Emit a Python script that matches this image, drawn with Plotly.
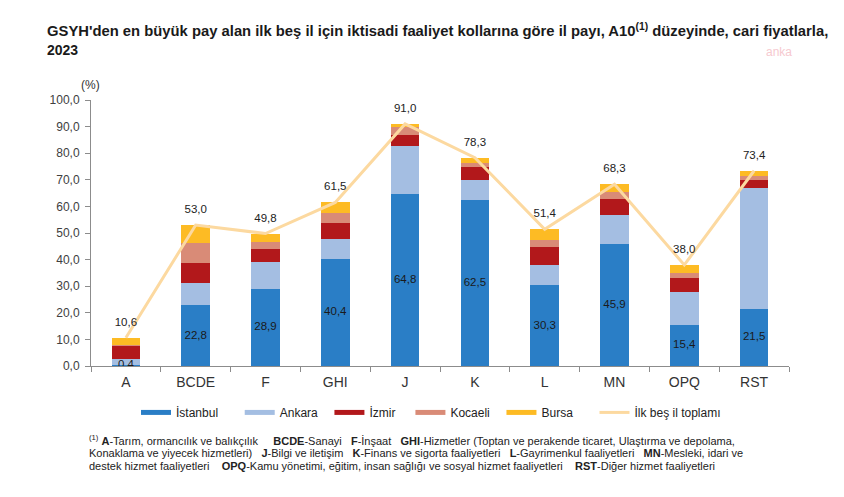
import plotly.graph_objects as go

categories = ["A", "BCDE", "F", "GHI", "J", "K", "L", "MN", "OPQ", "RST"]
istanbul = [0.4, 22.8, 28.9, 40.4, 64.8, 62.5, 30.3, 45.9, 15.4, 21.5]
ankara = [2.4, 8.3, 10.3, 7.2, 18.0, 7.4, 7.7, 10.7, 12.5, 45.3]
izmir = [4.8, 7.7, 4.8, 6.2, 4.0, 4.8, 6.9, 6.1, 5.3, 3.1]
kocaeli = [0.3, 7.6, 2.7, 3.8, 2.9, 1.6, 2.3, 2.8, 1.9, 1.5]
bursa = [2.7, 6.6, 3.1, 3.9, 1.3, 2.0, 4.2, 2.8, 2.9, 2.0]
toplam = [10.6, 53.0, 49.8, 61.5, 91.0, 78.3, 51.4, 68.3, 38.0, 73.4]
y_ticks = [0, 10, 20, 30, 40, 50, 60, 70, 80, 90, 100]

def fmt(v):
    return f"{v:.1f}".replace(".", ",")

series = [
    ("İstanbul", istanbul, "#2A7EC6", 5),
    ("Ankara", ankara, "#A4BEE2", 2),
    ("İzmir", izmir, "#B2181B", 3),
    ("Kocaeli", kocaeli, "#D98B77", 2),
    ("Bursa", bursa, "#FDBB24", 5),
]
LINE_COL = "#FCD9A0"
NB = "\u00a0"

fig = go.Figure()
for name, vals, col, _ in series:
    fig.add_trace(go.Bar(x=categories, y=vals, name=name, marker_color=col,
                         marker_line_width=0, width=0.41, showlegend=False))

fig.add_trace(go.Scatter(
    x=categories, y=toplam, name="İlk beş il toplamı",
    mode="lines+markers+text", showlegend=False,
    line=dict(color=LINE_COL, width=3),
    marker=dict(size=13, color="rgba(0,0,0,0)"),
    text=[fmt(v) for v in toplam], textposition="top center",
    textfont=dict(family="Liberation Sans, Arial", size=11.5, color="#222222"),
))

fig.add_trace(go.Scatter(
    x=categories, y=[v / 2 for v in istanbul], mode="text",
    text=[fmt(v) for v in istanbul], textposition="middle center",
    textfont=dict(family="Liberation Sans, Arial", size=11.5, color="#1a1a1a"),
    showlegend=False, hoverinfo="skip",
))

# legend entries drawn as line swatches like the reference
for name, vals, col, pad in series:
    fig.add_trace(go.Scatter(x=[None], y=[None], mode="lines", name=name + NB * pad,
                             line=dict(color=col, width=5)))
fig.add_trace(go.Scatter(x=[None], y=[None], mode="lines", name="İlk beş il toplamı",
                         line=dict(color=LINE_COL, width=3)))

fig.update_layout(
    width=844, height=497,
    barmode="stack",
    paper_bgcolor="white", plot_bgcolor="white",
    margin=dict(l=91, r=55, t=100, b=131),
    separators=",.",
    font=dict(family="Liberation Sans, Arial", color="#333333"),
    showlegend=True,
    legend=dict(orientation="h", x=0.0645, xanchor="left", y=-0.12, yanchor="top",
                font=dict(size=12, color="#222222"), traceorder="normal",
                bgcolor="rgba(0,0,0,0)"),
)
fig.update_yaxes(range=[0, 100], tickvals=y_ticks, tickformat=".1f",
                 showgrid=False, zeroline=False, showline=True, linecolor="#8c8c8c",
                 ticks="outside", ticklen=5, tickcolor="#8c8c8c", ticklabelstandoff=3,
                 tickfont=dict(size=12, color="#404040"))
fig.update_xaxes(range=[-0.5, len(categories) - 0.5], autorange=False,
                 showgrid=False, showline=True, linecolor="#8c8c8c",
                 ticks="outside", ticklen=5, tickcolor="#8c8c8c", tickson="boundaries",
                 ticklabelstandoff=3, tickfont=dict(size=14, color="#333333"))

def px(x):
    return (x - 91) / 698

def py(y):
    return (366 - y) / 266

anns = [
    dict(x=px(45), y=py(30),
         text="<b>GSYH'den en büyük pay alan ilk beş il için iktisadi faaliyet kollarına göre il payı, A10<sup>(1)</sup> düzeyinde, cari fiyatlarla,</b>",
         font=dict(size=14.8, color="#1a1a1a")),
    dict(x=px(45), y=py(50), text="<b>2023</b>", font=dict(size=14, color="#1a1a1a")),
    dict(x=px(764), y=py(52), text="anka", font=dict(size=12, color="#F6C9CF")),
    dict(x=px(79), y=py(85), text="(%)", font=dict(size=12, color="#333333")),
    dict(x=px(87), y=py(440),
         text="<sup>(1)</sup> <b>A</b>-Tarım, ormancılık ve balıkçılık     <b>BCDE</b>-Sanayi   <b>F</b>-İnşaat   <b>GHI</b>-Hizmetler (Toptan ve perakende ticaret, Ulaştırma ve depolama,",
         font=dict(size=11, color="#222222")),
    dict(x=px(87), y=py(453),
         text="Konaklama ve yiyecek hizmetleri)   <b>J</b>-Bilgi ve iletişim   <b>K</b>-Finans ve sigorta faaliyetleri   <b>L</b>-Gayrimenkul faaliyetleri   <b>MN</b>-Mesleki, idari ve",
         font=dict(size=11, color="#222222")),
    dict(x=px(87), y=py(466),
         text="destek hizmet faaliyetleri    <b>OPQ</b>-Kamu yönetimi, eğitim, insan sağlığı ve sosyal hizmet faaliyetleri    <b>RST</b>-Diğer hizmet faaliyetleri",
         font=dict(size=11, color="#222222")),
]
for a in anns:
    a.update(xref="paper", yref="paper", xanchor="left", yanchor="middle",
             showarrow=False, align="left")
    fig.add_annotation(**a)

fig.write_html("out.html", config={"displayModeBar": False},
               post_script="document.body.style.margin='0';")
